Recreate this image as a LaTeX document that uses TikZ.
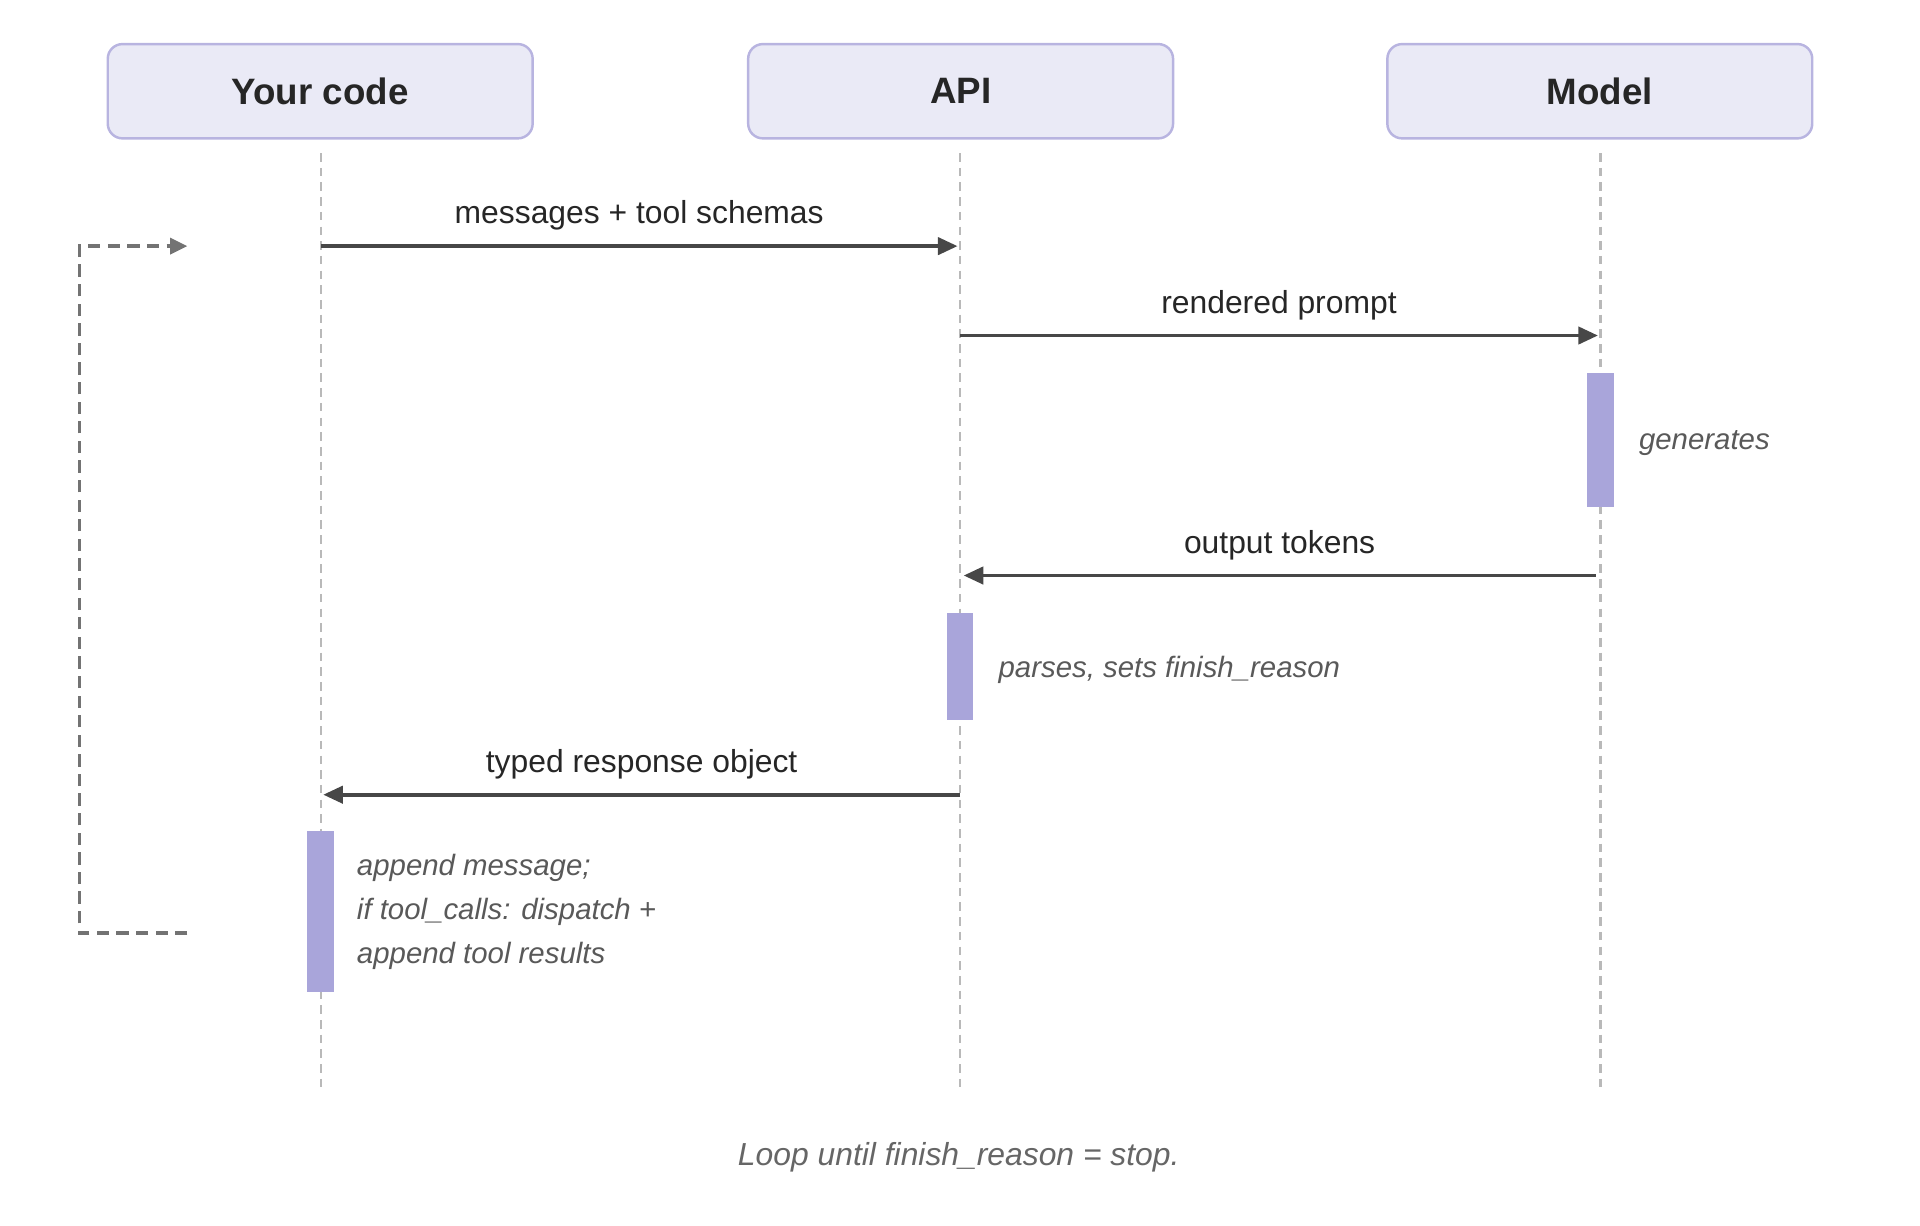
\documentclass[tikz,border=0pt]{standalone}
\usepackage{fontspec}
\setmainfont{Liberation Sans}
\usetikzlibrary{arrows.meta}
\begin{document}
\begin{tikzpicture}[x=1pt,y=-1pt,
  actor/.style={draw=lbord,fill=lfill,line width=2pt,rounded corners=12pt,minimum width=347pt,minimum height=77pt,font=\fontsize{30}{36}\selectfont\bfseries,text=black!85},
  life/.style={draw=gray!55,line width=2pt,dash pattern=on 7pt off 5pt},
  msg/.style={draw=black!72,line width=3pt,-{Triangle[length=16pt,width=14pt]}},
  lbl/.style={font=\fontsize{26}{31}\selectfont,text=black!85},
  act/.style={fill=actc,draw=none},
  note/.style={font=\fontsize{24}{36}\selectfont\itshape,text=black!65,align=left,anchor=west},
  loop/.style={draw=black!55,line width=3pt,dash pattern=on 10pt off 6pt}]
\definecolor{lfill}{HTML}{EAEAF6}
\definecolor{lbord}{HTML}{B8B4E0}
\definecolor{actc}{HTML}{A9A5DA}
\useasboundingbox (0,0) rectangle (1568,1001);
\node[actor] (yc) at (261.5,74.5) {Your code};
\node[actor] (api) at (784.5,74.5) {API};
\node[actor] (mod) at (1306.5,74.5) {Model};
\foreach \n/\x in {yc/262,api/784,mod/1307}{
  \coordinate (\n t) at (\x,125); \coordinate (\n b) at (\x,890);
  \draw[life] (\n t) -- (\n b);}
\node[act,minimum width=22pt,minimum height=109pt,inner sep=0] (a1) at (1307,359.5) {};
\node[act,minimum width=22pt,minimum height=87pt,inner sep=0] (a2) at (784,544.5) {};
\node[act,minimum width=22pt,minimum height=131pt,inner sep=0] (a3) at (261.5,744.5) {};
\coordinate (m1s) at (262,201); \coordinate (m1e) at (782,201);
\coordinate (m2s) at (784,274); \coordinate (m2e) at (1305,274);
\coordinate (m3s) at (1303,470); \coordinate (m3e) at (787,470);
\coordinate (m4s) at (784,649); \coordinate (m4e) at (264,649);
\draw[msg] (m1s) -- (m1e) node[lbl,midway,above=8pt] (l1) {messages + tool schemas};
\draw[msg] (m2s) -- (m2e) node[lbl,midway,above=8pt] (l2) {rendered prompt};
\draw[msg] (m3s) -- (m3e) node[lbl,midway,above=8pt] (l3) {output tokens};
\draw[msg] (m4s) -- (m4e) node[lbl,midway,above=8pt] (l4) {typed response object};
\node[note] (n1) at (1335,362) {generates};
\node[note] (n2) at (812,547) {parses, sets finish\_reason};
\node[note] (n3) at (288,745) {append message;\\if tool\_calls: dispatch +\\append tool results};
\coordinate (ls) at (153,762); \coordinate (le) at (153,201);
\draw[loop,-{Triangle[length=14pt,width=13pt]}] (ls) -- (65,762) -- (65,201) -- (le);
\node[font=\fontsize{26}{31}\selectfont\itshape,text=black!60] (cap) at (783,945) {Loop until finish\_reason = stop.};
\end{tikzpicture}
\end{document}
